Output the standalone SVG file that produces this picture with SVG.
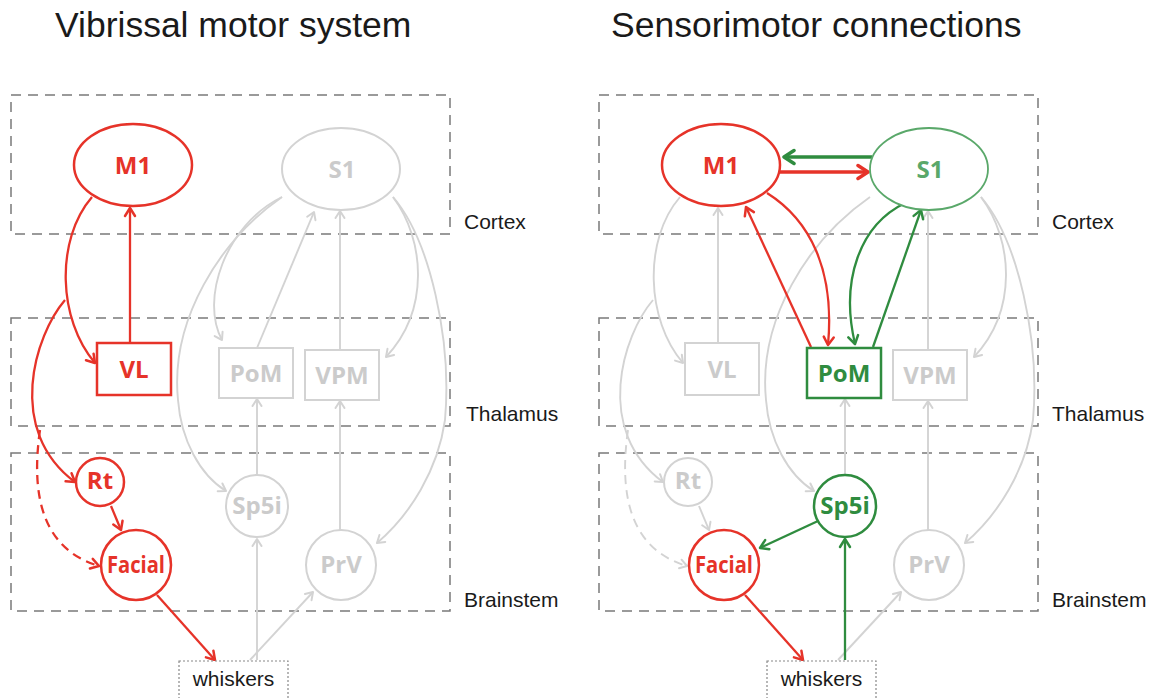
<svg xmlns="http://www.w3.org/2000/svg" width="1158" height="698" viewBox="0 0 1158 698">
<defs>
<style>
.title{font-family:"Liberation Sans",Arial,sans-serif;font-size:35.5px;fill:#1a1a1a}
.lab{font-family:"Liberation Sans",Arial,sans-serif;font-size:21px;fill:#1a1a1a}
.region{fill:none;stroke:#7a7a7a;stroke-width:1.5;stroke-dasharray:10 7}
.nt{font-family:"Open Sans","Noto Sans",sans-serif;font-weight:bold;font-size:24px;text-anchor:middle}
.tr{fill:#e63329}.tg{fill:#2f8c3f}.tlg{fill:#5aa86a}.tx{fill:#cbcbcb}
.nr{fill:#fff;stroke:#e63329;stroke-width:2.5}
.ng{fill:#fff;stroke:#2f8c3f;stroke-width:2.5}
.nlg{fill:#fff;stroke:#5aa86a;stroke-width:1.8}
.nx{fill:#fff;stroke:#d3d3d3;stroke-width:2}
.wb{fill:#fff;stroke:#888;stroke-width:1.2;stroke-dasharray:2 2}
.cr{fill:none;stroke:#e63329;stroke-width:2.3;marker-end:url(#ar)}
.cg{fill:none;stroke:#2f8c3f;stroke-width:2.3;marker-end:url(#ag)}
.cx{fill:none;stroke:#d3d3d3;stroke-width:1.9;marker-end:url(#ax)}
.crT{fill:none;stroke:#e63329;stroke-width:3.5;marker-end:url(#arT)}
.cgT{fill:none;stroke:#2f8c3f;stroke-width:3.5;marker-end:url(#agT)}
.dash{stroke-dasharray:9 6}
</style>
<marker id="ar" viewBox="-11 -7 13 14" markerWidth="13" markerHeight="14" markerUnits="userSpaceOnUse" orient="auto" refX="0" refY="0"><path d="M-8,-5 L0,0 L-8,5" fill="none" stroke="#e63329" stroke-width="2.5" stroke-linecap="round" stroke-linejoin="round"/></marker>
<marker id="ag" viewBox="-11 -7 13 14" markerWidth="13" markerHeight="14" markerUnits="userSpaceOnUse" orient="auto" refX="0" refY="0"><path d="M-8,-5 L0,0 L-8,5" fill="none" stroke="#2f8c3f" stroke-width="2.5" stroke-linecap="round" stroke-linejoin="round"/></marker>
<marker id="ax" viewBox="-11 -7 13 14" markerWidth="13" markerHeight="14" markerUnits="userSpaceOnUse" orient="auto" refX="0" refY="0"><path d="M-7,-4.5 L0,0 L-7,4.5" fill="none" stroke="#d3d3d3" stroke-width="2" stroke-linecap="round" stroke-linejoin="round"/></marker>
<marker id="arT" viewBox="-14 -9 16 18" markerWidth="16" markerHeight="18" markerUnits="userSpaceOnUse" orient="auto" refX="0" refY="0"><path d="M-10,-6.5 L0,0 L-10,6.5" fill="none" stroke="#e63329" stroke-width="3.5" stroke-linecap="round" stroke-linejoin="round"/></marker>
<marker id="agT" viewBox="-14 -9 16 18" markerWidth="16" markerHeight="18" markerUnits="userSpaceOnUse" orient="auto" refX="0" refY="0"><path d="M-10,-6.5 L0,0 L-10,6.5" fill="none" stroke="#2f8c3f" stroke-width="3.5" stroke-linecap="round" stroke-linejoin="round"/></marker>
</defs>
<rect width="1158" height="698" fill="#fff"/>

<g id="titles">
<text class="title" x="55" y="37">Vibrissal motor system</text>
<text class="title" x="611" y="37">Sensorimotor connections</text>
</g>

<g id="regions">
<rect class="region" x="11" y="95" width="439" height="139"/>
<rect class="region" x="11" y="318" width="439" height="108"/>
<rect class="region" x="11" y="453" width="439" height="158"/>
<rect class="region" x="599" y="95" width="439" height="139"/>
<rect class="region" x="599" y="318" width="439" height="108"/>
<rect class="region" x="599" y="453" width="439" height="158"/>
<text class="lab" x="464" y="229">Cortex</text>
<text class="lab" x="466" y="421">Thalamus</text>
<text class="lab" x="464" y="607">Brainstem</text>
<text class="lab" x="1052" y="229">Cortex</text>
<text class="lab" x="1052" y="421">Thalamus</text>
<text class="lab" x="1052" y="607">Brainstem</text>
</g>

<g id="connectors">
<!-- left panel -->
<path class="cx" d="M282 197 C225 225 200 300 222 340"/>
<path class="cx" d="M282 197 C220 240 170 320 178 400 C181 440 200 475 226 491"/>
<path class="cx" d="M393 197 C425 240 430 310 386 357"/>
<path class="cx" d="M393 197 C430 240 452 340 445 420 C438 470 410 515 377 543"/>
<path class="cx" d="M257 348 L314 212"/>
<path class="cx" d="M340 350 L340 211"/>
<path class="cx" d="M257 475 L257 399"/>
<path class="cx" d="M340 530 L340 401"/>
<path class="cx" d="M257 660 L257 539"/>
<path class="cx" d="M250 660 L313 592"/>
<path class="cr" d="M130 343 L130 208"/>
<path class="cr" d="M92 197 C55 240 58 320 95 363"/>
<path class="cr" d="M65 300 C35 335 5 430 75 482"/>
<path class="cr dash" d="M40 430 C30 500 45 550 99 566"/>
<path class="cr" d="M111 506 L121 530"/>
<path class="cr" d="M157 595 L215 660"/>
<!-- right panel -->
<path class="cx" d="M718 343 L718 208"/>
<path class="cx" d="M680 197 C643 240 646 320 683 363"/>
<path class="cx" d="M653 300 C623 335 593 430 663 482"/>
<path class="cx dash" d="M628 430 C618 500 633 550 687 566"/>
<path class="cx" d="M699 506 L709 530"/>
<path class="cx" d="M870 197 C808 240 758 320 766 400 C769 440 788 475 814 491"/>
<path class="cx" d="M981 197 C1013 240 1018 310 974 357"/>
<path class="cx" d="M981 197 C1018 240 1040 340 1033 420 C1026 470 998 515 965 543"/>
<path class="cx" d="M928 350 L928 211"/>
<path class="cx" d="M845 475 L845 399"/>
<path class="cx" d="M928 530 L928 401"/>
<path class="cx" d="M838 660 L901 592"/>
<path class="cr" d="M745 595 L803 660"/>
<path class="crT" d="M780 172 L868 172"/>
<path class="cr" d="M811 347 L746 207"/>
<path class="cr" d="M767 193 C810 220 835 270 828 345"/>
<path class="cgT" d="M872 157 L784 157"/>
<path class="cg" d="M905 203 C860 225 840 280 855 344"/>
<path class="cg" d="M873 347 L921 210"/>
<path class="cg" d="M845 660 L845 539"/>
<path class="cg" d="M818 521 L760 548"/>
</g>

<!-- left panel nodes -->
<g id="l-M1"><ellipse class="nr" cx="133" cy="165" rx="59" ry="41"/><text class="nt tr" x="133" y="174">M1</text></g>
<g id="l-S1"><ellipse class="nx" cx="341" cy="169" rx="59" ry="41"/><text class="nt tx" x="342" y="178">S1</text></g>
<g id="l-VL"><rect class="nr" x="97" y="343" width="74" height="52"/><text class="nt tr" x="134" y="378">VL</text></g>
<g id="l-PoM"><rect class="nx" x="219" y="348" width="74" height="50"/><text class="nt tx" x="256" y="382" font-size="23">PoM</text></g>
<g id="l-VPM"><rect class="nx" x="305" y="350" width="74" height="50"/><text class="nt tx" x="342" y="384" font-size="23">VPM</text></g>
<g id="l-Rt"><circle class="nr" cx="100" cy="482" r="24"/><text class="nt tr" x="100" y="489" font-size="20">Rt</text></g>
<g id="l-Facial"><circle class="nr" cx="136" cy="565" r="35"/><text class="nt tr" x="136" y="573" font-size="22" textLength="58" lengthAdjust="spacingAndGlyphs">Facial</text></g>
<g id="l-Sp5i"><circle class="nx" cx="257" cy="506" r="31"/><text class="nt tx" x="257" y="514" font-size="23">Sp5i</text></g>
<g id="l-PrV"><circle class="nx" cx="341" cy="565" r="35"/><text class="nt tx" x="341" y="573" font-size="22">PrV</text></g>
<g id="l-whiskers"><rect class="wb" x="179" y="661" width="109" height="40"/><text class="lab" x="233.5" y="686" text-anchor="middle">whiskers</text></g>

<!-- right panel nodes -->
<g id="r-M1"><ellipse class="nr" cx="721" cy="165" rx="59" ry="41"/><text class="nt tr" x="721" y="174">M1</text></g>
<g id="r-S1"><ellipse class="nlg" cx="929" cy="169" rx="59" ry="41"/><text class="nt tlg" x="930" y="178">S1</text></g>
<g id="r-VL"><rect class="nx" x="685" y="343" width="74" height="52"/><text class="nt tx" x="722" y="378">VL</text></g>
<g id="r-PoM"><rect class="ng" x="807" y="348" width="74" height="50"/><text class="nt tg" x="844" y="382" font-size="23">PoM</text></g>
<g id="r-VPM"><rect class="nx" x="893" y="350" width="74" height="50"/><text class="nt tx" x="930" y="384" font-size="23">VPM</text></g>
<g id="r-Rt"><circle class="nx" cx="688" cy="482" r="24"/><text class="nt tx" x="688" y="489" font-size="20">Rt</text></g>
<g id="r-Facial"><circle class="nr" cx="724" cy="565" r="35"/><text class="nt tr" x="724" y="573" font-size="22" textLength="58" lengthAdjust="spacingAndGlyphs">Facial</text></g>
<g id="r-Sp5i"><circle class="ng" cx="845" cy="506" r="31"/><text class="nt tg" x="845" y="514" font-size="23">Sp5i</text></g>
<g id="r-PrV"><circle class="nx" cx="929" cy="565" r="35"/><text class="nt tx" x="929" y="573" font-size="22">PrV</text></g>
<g id="r-whiskers"><rect class="wb" x="767" y="661" width="109" height="40"/><text class="lab" x="821.5" y="686" text-anchor="middle">whiskers</text></g>
</svg>
